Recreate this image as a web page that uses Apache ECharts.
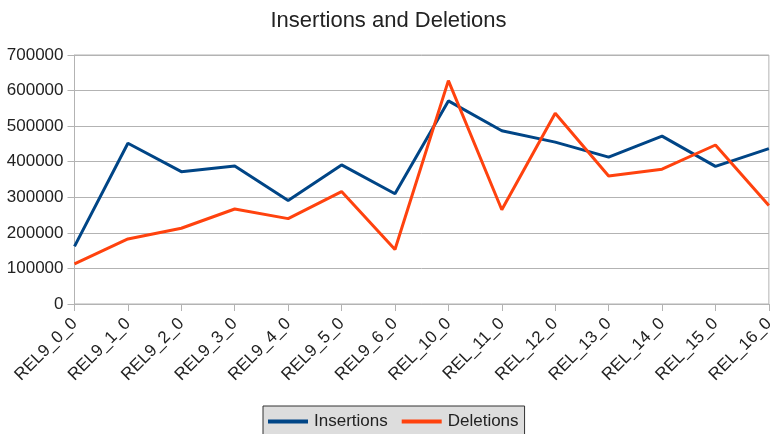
<!DOCTYPE html>
<html>
<head>
<meta charset="utf-8">
<script src="https://cdn.jsdelivr.net/npm/echarts@6/dist/echarts.min.js"></script>
<style>html,body{margin:0;padding:0;background:#fff}#c{width:777px;height:434px}</style>
</head>
<body>
<div id="c"></div>
<script>
const categories = ["REL9_0_0","REL9_1_0","REL9_2_0","REL9_3_0","REL9_4_0","REL9_5_0","REL9_6_0","REL_10_0","REL_11_0","REL_12_0","REL_13_0","REL_14_0","REL_15_0","REL_16_0"];
const insertions = [162000,452000,372000,388000,291000,391000,310000,571000,487000,455000,413000,472000,387000,437000];
const deletions  = [113000,183000,213000,267000,240000,316000,153000,628000,265000,536000,360000,379000,447000,277000];
const yTicks = [0,100000,200000,300000,400000,500000,600000,700000];

const chart = echarts.init(document.getElementById('c'), null, {renderer:'canvas'});
const font = '"Liberation Sans", Arial, sans-serif';
chart.setOption({
  animation: false,
  backgroundColor: '#ffffff',
  title: {
    text: 'Insertions and Deletions',
    left: 'center', top: 5,
    textStyle: {fontFamily: font, fontSize: 22, fontWeight: 'normal', color: '#222'}
  },
  grid: {left: 74.5, right: 2.5, top: 55, bottom: 130, show: true, borderColor: '#b3b3b3', borderWidth: 1, containLabel: false},
  legend: {
    left: 263, top: 406,
    padding: [7, 6, 8, 5],
    backgroundColor: '#dddddd', borderColor: '#333', borderWidth: 1,
    itemWidth: 40, itemHeight: 4, itemGap: 14,
    icon: 'rect',
    textStyle: {fontFamily: font, fontSize: 17, color: '#222', padding: [0,0,0,1]},
    data: ['Insertions','Deletions']
  },
  xAxis: {
    type: 'category', data: categories, boundaryGap: false,
    axisLine: {lineStyle: {color: '#b3b3b3', width: 1}},
    axisTick: {show: true, length: 7, lineStyle: {color: '#b3b3b3'}},
    axisLabel: {rotate: 45, margin: 17, fontFamily: font, fontSize: 17, color: '#222', interval: 0},
    splitLine: {show: false}
  },
  yAxis: {
    type: 'value', min: yTicks[0], max: yTicks[yTicks.length-1], interval: 100000,
    axisLine: {show: true, lineStyle: {color: '#b3b3b3', width: 1}},
    axisTick: {show: true, length: 7, lineStyle: {color: '#b3b3b3'}},
    axisLabel: {fontFamily: font, fontSize: 17, color: '#222', margin: 11, formatter: v => String(v)},
    splitLine: {lineStyle: {color: '#b3b3b3', width: 1}}
  },
  series: [
    {name: 'Insertions', type: 'line', data: insertions, showSymbol: false, symbol: 'none',
     lineStyle: {color: '#004586', width: 3}, itemStyle: {color: '#004586'}},
    {name: 'Deletions', type: 'line', data: deletions, showSymbol: false, symbol: 'none',
     lineStyle: {color: '#ff420e', width: 3}, itemStyle: {color: '#ff420e'}}
  ]
});
</script>
</body>
</html>
